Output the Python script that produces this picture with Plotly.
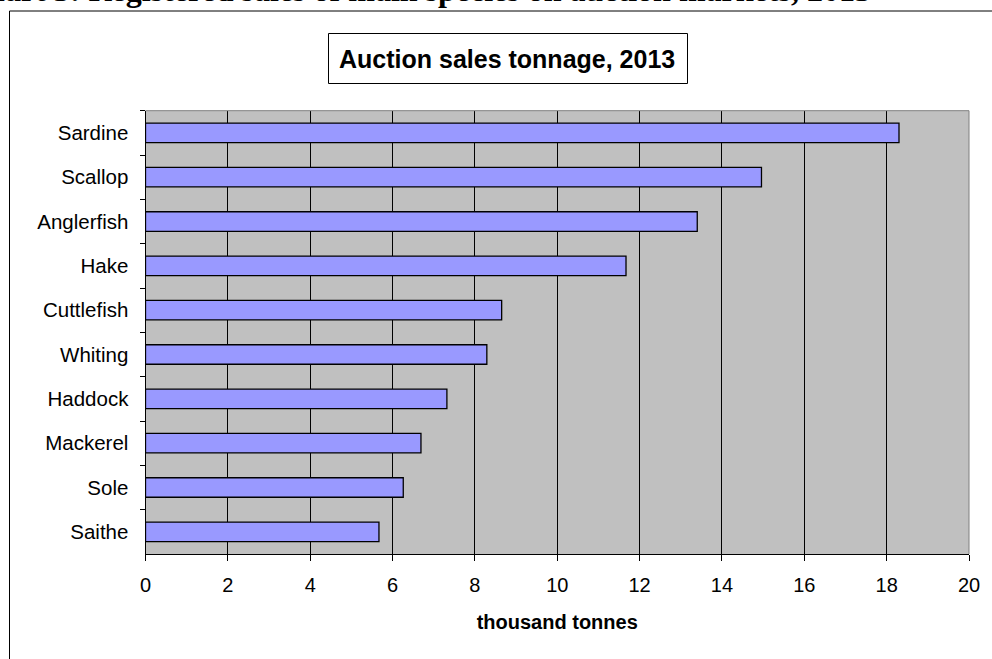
import plotly.graph_objects as go

# Auction sales by species, thousand tonnes (2013)
species = ["Sardine", "Scallop", "Anglerfish", "Hake", "Cuttlefish",
           "Whiting", "Haddock", "Mackerel", "Sole", "Saithe"]
tonnage = [18.3, 14.96, 13.4, 11.67, 8.65, 8.29, 7.32, 6.69, 6.26, 5.67]
x_ticks = [0, 2, 4, 6, 8, 10, 12, 14, 16, 18, 20]

W, H = 992, 659
SANS = "Arial, Liberation Sans, sans-serif"
SERIF = "Times New Roman, Liberation Serif, serif"

# plot area in pixels
PL, PR, PT, PB = 145.5, 969, 110.7, 554


def px(x):
    return x / W


def py(y):
    return 1 - y / H


fig = go.Figure(
    go.Bar(
        x=tonnage,
        y=species,
        orientation="h",
        marker=dict(color="#9999FF", line=dict(color="#000000", width=1.3)),
        hoverinfo="x+y",
    )
)

fig.update_layout(
    width=W,
    height=H,
    autosize=False,
    margin=dict(l=0, r=0, t=0, b=0),
    paper_bgcolor="white",
    plot_bgcolor="#C0C0C0",
    showlegend=False,
    bargap=0.56,
    font=dict(family=SANS, size=20, color="#000000"),
    xaxis=dict(
        domain=[px(PL), px(PR)],
        range=[0, 20],
        tickvals=x_ticks,
        ticks="outside",
        ticklen=6,
        tickcolor="#000000",
        tickwidth=1,
        showline=True,
        linecolor="#000000",
        linewidth=1,
        showgrid=True,
        gridcolor="#000000",
        gridwidth=1,
        zeroline=False,
        ticklabelstandoff=7,
        tickfont=dict(family=SANS, size=20, color="#000000"),
        title=dict(
            text="<b>thousand tonnes</b>",
            font=dict(family=SANS, size=20, color="#000000"),
            standoff=19,
        ),
        automargin=False,
        fixedrange=True,
    ),
    yaxis=dict(
        domain=[py(PB), py(PT)],
        type="category",
        autorange="reversed",
        tickson="boundaries",
        ticks="outside",
        ticklen=5,
        tickcolor="#000000",
        showline=True,
        linecolor="#000000",
        linewidth=1,
        showgrid=False,
        zeroline=False,
        ticklabelstandoff=12,
        tickfont=dict(family=SANS, size=20.5, color="#000000"),
        automargin=False,
        fixedrange=True,
    ),
)

# gray border on the top and right sides of the plot area
fig.add_shape(type="line", xref="paper", yref="paper",
              x0=px(PL), x1=px(PR), y0=py(PT), y1=py(PT),
              line=dict(color="#808080", width=1))
fig.add_shape(type="line", xref="paper", yref="paper",
              x0=px(PR), x1=px(PR), y0=py(PT), y1=py(PB),
              line=dict(color="#808080", width=1))

# outer chart frame (continues past the right and bottom edges)
fig.add_shape(type="rect", xref="paper", yref="paper",
              x0=px(9.5), x1=px(W + 20), y0=py(11), y1=py(H + 20),
              line=dict(color="#000000", width=1), fillcolor="rgba(0,0,0,0)",
              layer="below")

# boxed chart title
fig.add_shape(type="rect", xref="paper", yref="paper",
              x0=px(328.5), x1=px(687.5), y0=py(33.5), y1=py(83.5),
              line=dict(color="#000000", width=1), fillcolor="white")
fig.add_annotation(xref="paper", yref="paper", x=px(507), y=py(58.5),
                   text="<b>Auction sales tonnage, 2013</b>", showarrow=False,
                   xanchor="center", yanchor="middle",
                   font=dict(family=SANS, size=25, color="#000000"))

# document caption above the frame
fig.add_annotation(xref="paper", yref="paper", x=px(873), y=py(-10),
                   text="<b>Chart 3: Registered sales of main species on auction markets, 2013</b>",
                   showarrow=False, xanchor="right", yanchor="middle",
                   font=dict(family=SERIF, size=32, color="#000000"))

fig.write_html("out.html")
